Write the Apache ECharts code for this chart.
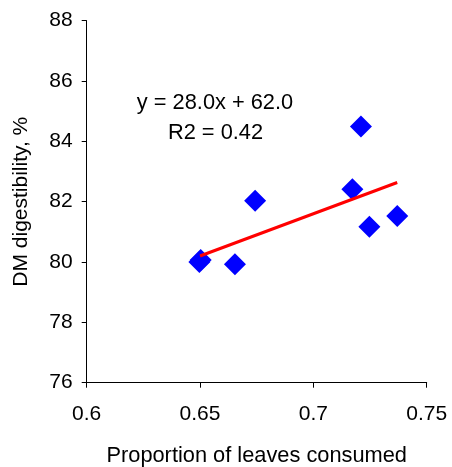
<!DOCTYPE html>
<html><head><meta charset="utf-8">
<script src="https://cdn.jsdelivr.net/npm/echarts@6/dist/echarts.min.js"></script>
<style>html,body{margin:0;padding:0;background:#fff}#c{width:452px;height:467px}</style>
</head><body><div id="c"></div>
<script>
var xValues = [0.6497, 0.6503, 0.6654, 0.6743, 0.7172, 0.7210, 0.7247, 0.7370];
var yValues = [80.00, 80.07, 79.93, 82.03, 82.41, 84.49, 81.17, 81.53];
var trendSlope = 28.0, trendIntercept = 62.0;
var trendX = [0.650, 0.737];
var eqText = 'y = 28.0x + 62.0';
var r2Text = 'R2 = 0.42';
var xTitle = 'Proportion of leaves consumed';
var yTitle = 'DM digestibility, %';

var pts = xValues.map(function(x,i){return [x, yValues[i]];});
var trend = trendX.map(function(x){return [x, trendSlope*x + trendIntercept];});
var chart = echarts.init(document.getElementById('c'));
var font = 'Liberation Sans, Arial, sans-serif';
chart.setOption({
  animation:false,
  grid:{left:86.7, right:25.3, top:20.7, bottom:84.3, containLabel:false, outerBoundsMode:'none'},
  xAxis:{type:'value', min:0.6, max:0.75, interval:0.05,
    name:xTitle, nameLocation:'middle', nameGap:62,
    nameTextStyle:{color:'#000', fontSize:21.8, fontFamily:font},
    axisLine:{show:true, lineStyle:{color:'#000', width:1}},
    axisTick:{show:true, length:5, lineStyle:{color:'#000'}},
    axisLabel:{color:'#000', fontSize:21, fontFamily:font, margin:21, formatter:function(v){return String(+v.toFixed(2));}},
    splitLine:{show:false}},
  yAxis:{type:'value', min:76, max:88, interval:2,
    name:yTitle, nameLocation:'middle', nameGap:55,
    nameTextStyle:{color:'#000', fontSize:21, fontFamily:font},
    axisLine:{show:true, lineStyle:{color:'#000', width:1}},
    axisTick:{show:true, length:5, lineStyle:{color:'#000'}},
    axisLabel:{color:'#000', fontSize:21, fontFamily:font, margin:14},
    splitLine:{show:false}},
  graphic:[
    {type:'text', style:{text:eqText, x:215, y:103, align:'center', verticalAlign:'middle', fontSize:21.8, fontFamily:font, fill:'#000'}},
    {type:'text', style:{text:r2Text, x:215.5, y:133, align:'center', verticalAlign:'middle', fontSize:21.8, fontFamily:font, fill:'#000'}}
  ],
  series:[
    {type:'scatter', data:pts, symbol:'diamond', symbolSize:22, itemStyle:{color:'#0000ff', opacity:1}, z:2},
    {type:'line', data:trend, symbol:'none', lineStyle:{color:'#ff0000', width:3}, z:3}
  ]
});
</script></body></html>
